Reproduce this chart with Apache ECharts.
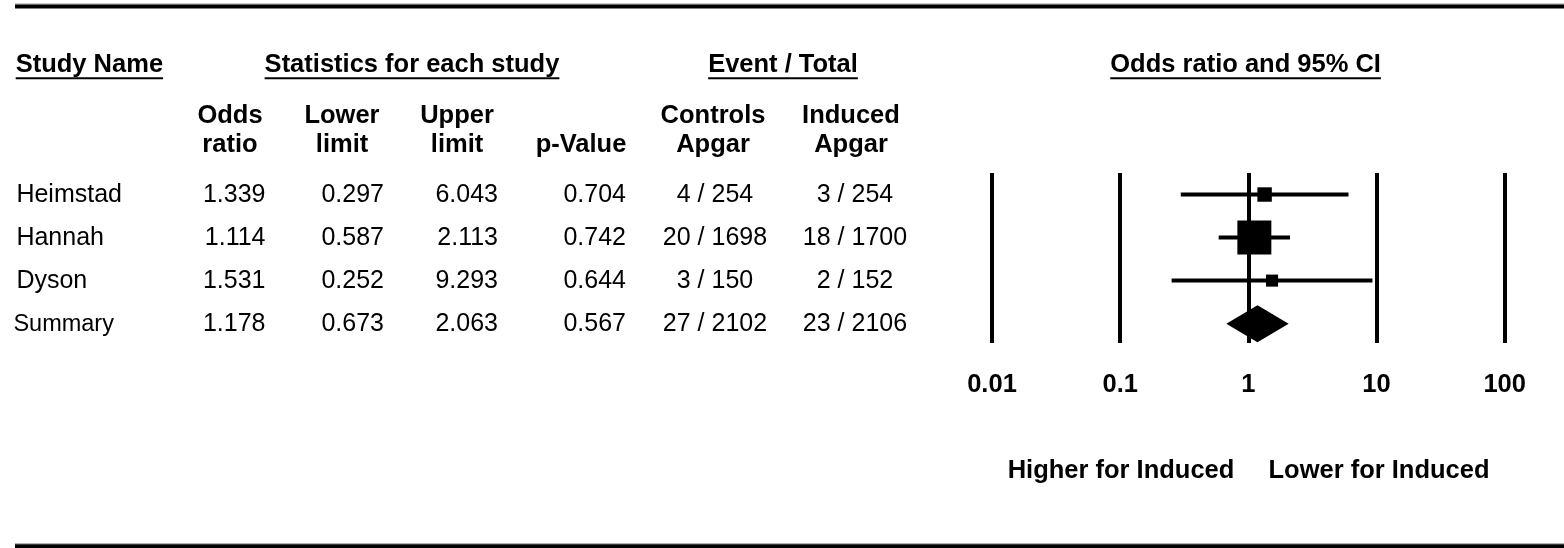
<!DOCTYPE html>
<html><head><meta charset="utf-8">
<script src="https://cdn.jsdelivr.net/npm/echarts@6/dist/echarts.min.js"></script>
<style>html,body{margin:0;padding:0;background:#fff}#c{width:1564px;height:548px}</style>
</head><body><div id="c"></div>
<script>
// ---- data ----
const studyNames = ['Heimstad', 'Hannah', 'Dyson', 'Summary'];
const oddsRatio = [1.339, 1.114, 1.531, 1.178];
const lowerLimit = [0.297, 0.587, 0.252, 0.673];
const upperLimit = [6.043, 2.113, 9.293, 2.063];
const pValue = [0.704, 0.742, 0.644, 0.567];
const controlsEvents = [4, 20, 3, 27];
const controlsTotal = [254, 1698, 150, 2102];
const inducedEvents = [3, 18, 2, 23];
const inducedTotal = [254, 1700, 152, 2106];
const tickValues = [0.01, 0.1, 1, 10, 100];
const tickLabels = ['0.01', '0.1', '1', '10', '100'];
const summaryName = 'Summary';

// ---- layout / style ----
const FONT = "'Liberation Sans', Arial, Helvetica, sans-serif";
const BOLD = 'bold 25.5px ' + FONT;
const REG = '25px ' + FONT;
const measure = (() => { const ctx = document.createElement('canvas').getContext('2d');
  return (t, f) => { ctx.font = f; return ctx.measureText(t).width; }; })();

const chart = echarts.init(document.getElementById('c'), null, {renderer: 'canvas'});

chart.setOption({
  animation: false,
  backgroundColor: '#fff',
  grid: {left: 992, right: 59.3, top: 173, bottom: 205},
  xAxis: {
    type: 'log', logBase: 10, min: 0.01, max: 100,
    axisLine: {show: false}, axisTick: {show: false},
    splitLine: {show: true, showMinLine: true, showMaxLine: true, lineStyle: {color: '#000', width: 4}},
    axisLabel: {
      show: true, color: '#000', fontFamily: FONT, fontSize: 25.5, fontWeight: 'bold', margin: 29,
      formatter: v => { const k = tickValues.findIndex(t => Math.abs(Math.log10(t) - Math.log10(v)) < 1e-6); return k >= 0 ? tickLabels[k] : ''; }
    }
  },
  yAxis: {type: 'value', inverse: true, min: -0.5, max: 3.45, show: false},
  series: [{
    type: 'custom', clip: false,
    encode: {x: [0, 2, 3], y: 1},
    data: studyNames.map((n, i) => [oddsRatio[i], i, lowerLimit[i], upperLimit[i]]),
    renderItem: (params, api) => {
      const i = api.value(1);
      const c = api.coord([api.value(0), i]);
      const lo = api.coord([api.value(2), i]);
      const hi = api.coord([api.value(3), i]);
      if (studyNames[i] === summaryName) {
        const h = 18.5;
        return {type: 'polygon', shape: {points: [[lo[0], c[1]], [c[0], c[1] - h], [hi[0], c[1]], [c[0], c[1] + h]]}, style: {fill: '#000'}};
      }
      const se = (Math.log(api.value(3)) - Math.log(api.value(2))) / (2 * 1.96);
      const s = 11.1 / se;
      return {type: 'group', children: [
        {type: 'line', shape: {x1: lo[0], y1: c[1], x2: hi[0], y2: c[1]}, style: {stroke: '#000', lineWidth: 4}},
        {type: 'rect', shape: {x: c[0] - s / 2, y: c[1] - s / 2, width: s, height: s}, style: {fill: '#000'}}
      ]};
    }
  }]
});

// ---- table text ----
const g = [];
function txt(text, x, y, font, align) {
  g.push({type: 'text', x: x, y: y, silent: true,
    style: {text: text, font: font, fill: '#000', align: align, verticalAlign: 'middle', textAlign: align, textVerticalAlign: 'middle'}});
}
function rect(x, y, w, h, col) {
  g.push({type: 'rect', silent: true, shape: {x: x, y: y, width: w, height: h}, style: {fill: col}});
}
// rules
rect(15, 3.6, 1549, 1, '#999'); rect(15, 4.6, 1549, 3.8, '#000');
rect(15, 543.2, 1549, 1, '#999'); rect(15, 544.2, 1549, 3.8, '#000');

// headers with underline
const headers = [
  {t: 'Study Name', x: 15.7, a: 'left'},
  {t: 'Statistics for each study', x: 412, a: 'center'},
  {t: 'Event / Total', x: 783, a: 'center'},
  {t: 'Odds ratio and 95% CI', x: 1245.6, a: 'center'}
];
headers.forEach(h => {
  txt(h.t, h.x, 64.5, BOLD, h.a);
  const w = measure(h.t, BOLD);
  const x0 = h.a === 'left' ? h.x : h.x - w / 2;
  rect(x0, 77.3, w, 2, '#000');
});
// sub headers
const subHeaders = [
  {l1: 'Odds', l2: 'ratio', x: 230},
  {l1: 'Lower', l2: 'limit', x: 342},
  {l1: 'Upper', l2: 'limit', x: 457},
  {l1: '', l2: 'p-Value', x: 581},
  {l1: 'Controls', l2: 'Apgar', x: 713},
  {l1: 'Induced', l2: 'Apgar', x: 851}
];
subHeaders.forEach(s => {
  if (s.l1) txt(s.l1, s.x, 116, BOLD, 'center');
  txt(s.l2, s.x, 145, BOLD, 'center');
});
// rows
studyNames.forEach((n, i) => {
  const y = chart.convertToPixel({gridIndex: 0}, [1, i])[1] + 0.8;
  const isSum = n === summaryName;
  txt(n, isSum ? 13.4 : 16.4, y, isSum ? '23.5px ' + FONT : REG, 'left');
  txt(oddsRatio[i].toFixed(3), 265.5, y, REG, 'right');
  txt(lowerLimit[i].toFixed(3), 384, y, REG, 'right');
  txt(upperLimit[i].toFixed(3), 498, y, REG, 'right');
  txt(pValue[i].toFixed(3), 626, y, REG, 'right');
  txt(controlsEvents[i] + ' / ' + controlsTotal[i], 715, y, REG, 'center');
  txt(inducedEvents[i] + ' / ' + inducedTotal[i], 855, y, REG, 'center');
});
// favours labels
txt('Higher for Induced', 1121, 470.5, BOLD, 'center');
txt('Lower for Induced', 1379, 470.5, BOLD, 'center');

chart.setOption({graphic: {elements: g}});
</script>
</body></html>
